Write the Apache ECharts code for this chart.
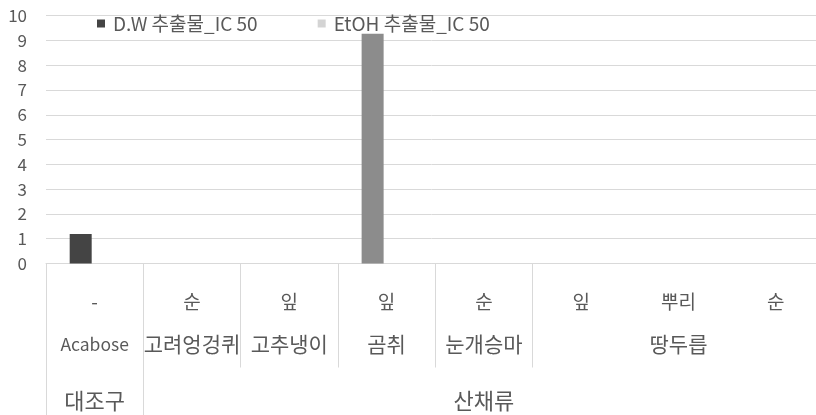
<!DOCTYPE html>
<html>
<head>
<meta charset="utf-8">
<script src="https://cdn.jsdelivr.net/npm/echarts@6/dist/echarts.min.js"></script>
<style>
  html, body { margin: 0; padding: 0; background: #fff; }
  #chart { width: 816px; height: 415px; }
</style>
</head>
<body>
<div id="chart"></div>
<script>
// Three-level category axis: plant part / species / group
const parts  = ['-', '순', '잎', '잎', '순', '잎', '뿌리', '순'];
const plants = ['Acabose', '고려엉겅퀴', '고추냉이', '곰취', '눈개승마', '땅두릅', '땅두릅', '땅두릅'];
const groups = ['대조구', '산채류', '산채류', '산채류', '산채류', '산채류', '산채류', '산채류'];

// IC50 values per column (null = no bar)
const dwValues   = [1.19, null, null, 9.27, null, null, null, null];
const etohValues = [null, null, null, null, null, null, null, null];

const seriesNames = ['D.W 추출물_IC 50', 'EtOH 추출물_IC 50'];

const FONT = '"Noto Sans CJK KR", "Noto Sans", sans-serif';
const TEXT = '#595959';
const LINE = '#d9d9d9';

// first index of a run of equal labels
function isRunStart(arr, i) {
  return i === 0 || arr[i] !== arr[i - 1];
}
// middle index of the run containing i
function isRunMiddle(arr, i) {
  let s = i, e = i;
  while (s > 0 && arr[s - 1] === arr[i]) s--;
  while (e < arr.length - 1 && arr[e + 1] === arr[i]) e++;
  return i === Math.floor((s + e) / 2);
}
// Latin names use a slightly smaller size than Hangul ones
function latinAware(v) {
  return /^[A-Za-z]/.test(v) ? '{lat|' + v + '}' : v;
}

const chart = echarts.init(document.getElementById('chart'));

chart.setOption({
  animation: false,
  textStyle: { fontFamily: FONT },
  grid: {
    left: 46, width: 778.5, top: 15.7, bottom: 151.5,
    containLabel: false, outerBoundsMode: 'none'
  },
  legend: {
    z: 1,
    left: 97,
    top: 14,
    padding: 0,
    itemWidth: 8,
    itemHeight: 8,
    itemGap: 60,
    icon: 'rect',
    textStyle: { color: TEXT, fontSize: 19, fontFamily: FONT, padding: [0, 0, 0, 3] },
    data: seriesNames
  },
  xAxis: [
    {
      type: 'category',
      data: parts,
      position: 'bottom',
      axisLine: { show: true, lineStyle: { color: LINE, width: 1 } },
      axisTick: { show: false },
      axisLabel: {
        interval: 0, color: TEXT, fontSize: 19, fontFamily: FONT,
        margin: 38, verticalAlign: 'middle'
      }
    },
    {
      type: 'category',
      data: plants,
      position: 'bottom',
      axisLine: { show: false },
      axisTick: {
        show: true, length: 104,
        interval: (i) => isRunStart(plants, i),
        lineStyle: { color: LINE, width: 1 }
      },
      axisLabel: {
        interval: (i) => isRunMiddle(plants, i),
        formatter: latinAware,
        rich: { lat: { fontSize: 17.5, color: TEXT, fontFamily: FONT } },
        color: TEXT, fontSize: 21, fontFamily: FONT,
        margin: 81, verticalAlign: 'middle'
      }
    },
    {
      type: 'category',
      data: groups,
      position: 'bottom',
      axisLine: { show: false },
      axisTick: {
        show: true, length: 152,
        interval: (i) => isRunStart(groups, i),
        lineStyle: { color: LINE, width: 1 }
      },
      axisLabel: {
        interval: (i) => isRunMiddle(groups, i),
        color: TEXT, fontSize: 22, fontFamily: FONT,
        margin: 137, verticalAlign: 'middle'
      }
    }
  ],
  yAxis: {
    type: 'value',
    min: 0,
    max: 10,
    interval: 1,
    axisLine: { show: false },
    axisTick: { show: false },
    splitLine: { lineStyle: { color: LINE, width: 1 } },
    axisLabel: { color: TEXT, fontSize: 17, fontFamily: FONT, margin: 19 }
  },
  series: [
    {
      name: seriesNames[0],
      type: 'bar',
      xAxisIndex: 0,
      z: 3,
      barWidth: 22,
      barGap: '27%',
      itemStyle: { color: '#444444' },
      data: dwValues.map((v, i) =>
        plants[i] === '곰취' ? { value: v, itemStyle: { color: '#8c8c8c' } } : v)
    },
    {
      name: seriesNames[1],
      type: 'bar',
      xAxisIndex: 0,
      z: 3,
      barWidth: 22,
      itemStyle: { color: '#d4d4d4' },
      data: etohValues
    }
  ]
});
</script>
</body>
</html>
